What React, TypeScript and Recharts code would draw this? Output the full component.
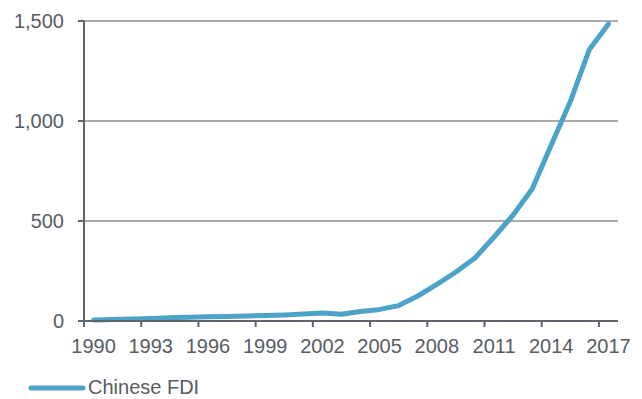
import { CartesianGrid, Line, LineChart, XAxis, YAxis } from 'recharts';

// Chinese FDI stock, 1990–2017
const years = [
  1990, 1991, 1992, 1993, 1994, 1995, 1996, 1997, 1998, 1999, 2000, 2001, 2002, 2003,
  2004, 2005, 2006, 2007, 2008, 2009, 2010, 2011, 2012, 2013, 2014, 2015, 2016, 2017,
];
const chineseFdi = [
  5, 7, 10, 13, 16, 19, 21, 23, 25, 27, 30, 35, 40, 34,
  47, 58, 77, 125, 183, 245, 315, 420, 530, 660, 880, 1097, 1358, 1485,
];
const xTicks = [1990, 1993, 1996, 1999, 2002, 2005, 2008, 2011, 2014, 2017];
const yTicks = [0, 500, 1000, 1500];

const rows = years.map((year, i) => ({ year, fdi: chineseFdi[i] }));

const W = 642;
const H = 399;
const PLOT_LEFT = 84;
const PLOT_RIGHT = 618;
const HALF_YEAR = (PLOT_RIGHT - PLOT_LEFT) / years.length / 2;

const TICK_SIZE = 6;
const X_TICK_MARGIN = 12;
const TEXT = '#575c62';
const AXIS = '#5f656b';
const LINE = '#4ba3c8';
const FONT = '"Liberation Sans", Arial, sans-serif';

// Excel-style category ticks: label centred on the year, tick mark on the boundary before it
function YearTick(props: any) {
  const { x, y, payload } = props;
  const axisY = y - TICK_SIZE - X_TICK_MARGIN;
  const tx = x - HALF_YEAR;
  return (
    <g>
      <line x1={tx} x2={tx} y1={axisY} y2={axisY + TICK_SIZE} stroke={AXIS} strokeWidth={2} />
      <text x={x} y={y} dy="0.71em" textAnchor="middle" fill={TEXT} fontSize={20} fontFamily={FONT}>
        {payload.value}
      </text>
    </g>
  );
}

export default function App() {
  return (
    <div style={{ position: 'absolute', left: 0, top: 0, width: W, height: H, background: '#fff' }}>
      <LineChart
        width={W}
        height={H}
        data={rows}
        margin={{ top: 21, right: W - PLOT_RIGHT, bottom: 48, left: 8 }}
      >
        <CartesianGrid vertical={false} stroke="#8c8e90" strokeWidth={1.5} />
        <XAxis
          dataKey="year"
          type="number"
          domain={[1989.5, 2017.5]}
          ticks={xTicks}
          interval={0}
          height={30}
          tickSize={TICK_SIZE}
          tickMargin={X_TICK_MARGIN}
          tickLine={false}
          tick={<YearTick />}
          axisLine={{ stroke: AXIS, strokeWidth: 2 }}
        />
        <YAxis
          width={76}
          domain={[0, 1500]}
          ticks={yTicks}
          interval={0}
          tickSize={TICK_SIZE}
          tickMargin={14}
          tickFormatter={(v: number) => v.toLocaleString('en-US')}
          tick={{ fill: TEXT, fontSize: 20, fontFamily: FONT }}
          tickLine={{ stroke: AXIS, strokeWidth: 2 }}
          axisLine={{ stroke: AXIS, strokeWidth: 2 }}
        />
        <Line
          type="linear"
          dataKey="fdi"
          name="Chinese FDI"
          stroke={LINE}
          strokeWidth={5}
          strokeLinejoin="round"
          strokeLinecap="round"
          dot={false}
          isAnimationActive={false}
        />
      </LineChart>
      <div
        style={{
          position: 'absolute',
          left: 28,
          top: 376,
          display: 'flex',
          alignItems: 'center',
          fontFamily: FONT,
          fontSize: 20,
          color: TEXT,
        }}
      >
        <svg width={58} height={8} style={{ marginRight: 2 }}>
          <line x1={3} y1={4} x2={55} y2={4} stroke={LINE} strokeWidth={5} strokeLinecap="round" />
        </svg>
        <span>Chinese FDI</span>
      </div>
    </div>
  );
}
